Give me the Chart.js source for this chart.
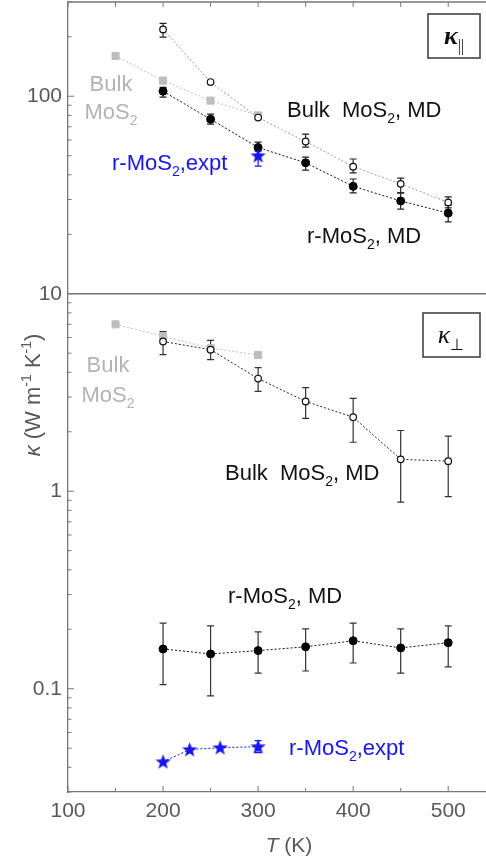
<!DOCTYPE html>
<html>
<head>
<meta charset="utf-8">
<script src="https://cdn.jsdelivr.net/npm/chart.js@4.4.1/dist/chart.umd.min.js"></script>
<style>
  html, body { margin: 0; padding: 0; background: #fff; overflow: hidden; }
  #wrap { width: 520px; height: 861px; }
  canvas { display: block; }
</style>
</head>
<body>
<div id="wrap"><canvas id="kappa" width="520" height="861" style="width:520px;height:861px"></canvas></div>
<script>
// temperatures (K)
const temps = [200, 250, 300, 350, 400, 450, 500];
const bulkT = [150, 200, 250, 300];
const exptT = [200, 228, 260, 300];
const exptParT = [300];

// bulk MoS2 (gray squares)
const bulkPar = [160, 120, 95, 80];
const bulkPerp = [7.0, 6.1, 5.3, 4.9];

// bulk MoS2, MD (open circles)
const bulkMdPar = [218, 118, 78, 59, 44, 36, 29];
const bulkMdParLo = [199, null, null, 55.2, 40.9, 32.4, 27.2];
const bulkMdParHi = [234, null, null, 64.3, 48.1, 38.5, 30.9];
const bulkMdPerp = [5.73, 5.21, 3.72, 2.85, 2.37, 1.45, 1.42];
const bulkMdPerpLo = [4.92, 4.64, 3.2, 2.34, 1.77, 0.88, 0.94];
const bulkMdPerpHi = [6.43, 5.8, 4.23, 3.35, 2.95, 2.03, 1.90];

// r-MoS2, MD (filled circles)
const rMdPar = [106, 76.5, 55, 46, 35, 29.5, 25.6];
const rMdParLo = [98.9, 72.2, 52.7, 42.3, 32.4, 26.8, 23.1];
const rMdParHi = [111, 81.1, 58.6, 49.2, 38.1, 32.4, 28.1];
const rMdPerp = [0.159, 0.150, 0.156, 0.163, 0.175, 0.161, 0.171];
const rMdPerpLo = [0.105, 0.092, 0.12, 0.123, 0.135, 0.12, 0.129];
const rMdPerpHi = [0.215, 0.208, 0.194, 0.201, 0.215, 0.201, 0.208];

// r-MoS2, experiment (blue stars)
const exptPar = [50];
const exptParLo = [44.3];
const exptParHi = [53.4];
const exptPerp = [0.0427, 0.0492, 0.0503, 0.0509];
const exptPerpLo = [null, null, null, 0.0475];
const exptPerpHi = [null, null, null, 0.0546];

const xTicks = [100, 200, 300, 400, 500];
const xMinor = [150, 250, 350, 450];
const yTicks = [0.1, 1, 10, 100];

const SANS = '"Liberation Sans", Arial, sans-serif';
const SERIF = '"Liberation Serif", "Times New Roman", serif';
const BLUE = '#1414ff';

function starImage() {
    const c = document.createElement('canvas');
    c.width = 17; c.height = 17;
    const g = c.getContext('2d');
    g.beginPath();
    for (let i = 0; i < 10; i++) {
        const r = i % 2 ? 3.3 : 8;
        const a = -Math.PI / 2 + i * Math.PI / 5;
        const px = 8.5 + r * Math.cos(a), py = 9 + r * Math.sin(a);
        i ? g.lineTo(px, py) : g.moveTo(px, py);
    }
    g.closePath();
    g.fillStyle = BLUE;
    g.fill();
    return c;
}
const star = starImage();

function series(xs, ys, opts) {
    return Object.assign({
        data: xs.map((x, i) => ({ x, y: ys[i] })),
        showLine: true,
        borderWidth: 1,
        borderDash: [2, 2]
    }, opts);
}

const squareOpts = { borderColor: '#bdbdbd', pointStyle: 'rect', pointRadius: 5, pointBackgroundColor: '#bdbdbd', pointBorderColor: '#bdbdbd', order: 5 };
const openOpts = { pointStyle: 'circle', pointRadius: 3.3, pointBackgroundColor: '#fff', pointBorderColor: '#111', pointBorderWidth: 1.2, order: 3 };
const filledOpts = { borderColor: '#111', pointStyle: 'circle', pointRadius: 4, pointBackgroundColor: '#000', pointBorderColor: '#000', order: 2 };
const starOpts = { borderColor: BLUE, pointStyle: star, order: 1 };

const errorBars = [
    { xs: temps, lo: bulkMdParLo, hi: bulkMdParHi, color: '#222' },
    { xs: temps, lo: bulkMdPerpLo, hi: bulkMdPerpHi, color: '#333' },
    { xs: temps, lo: rMdParLo, hi: rMdParHi, color: '#222' },
    { xs: temps, lo: rMdPerpLo, hi: rMdPerpHi, color: '#333' },
    { xs: exptParT, lo: exptParLo, hi: exptParHi, color: BLUE },
    { xs: exptT, lo: exptPerpLo, hi: exptPerpHi, color: BLUE }
];

function fontFor(p, size) {
    const s = (p.sub || p.sup) ? Math.round(size * 0.62) : size;
    return (p.bold ? 'bold ' : '') + (p.it ? 'italic ' : '') + s + 'px ' + (p.serif ? SERIF : SANS);
}

function drawRich(ctx, parts, x, y, size, color, align) {
    let w = 0;
    parts.forEach(p => { ctx.font = fontFor(p, size); w += ctx.measureText(p.t).width; });
    let cx = align === 'center' ? x - w / 2 : x;
    ctx.fillStyle = color;
    ctx.textAlign = 'left';
    ctx.textBaseline = 'alphabetic';
    parts.forEach(p => {
        ctx.font = fontFor(p, size);
        const dy = p.sub ? size * 0.28 : p.sup ? -size * 0.4 : 0;
        ctx.fillText(p.t, cx, y + dy);
        cx += ctx.measureText(p.t).width;
    });
}

const mos2 = [{ t: 'MoS' }, { t: '2', sub: true }];

const decorations = {
    id: 'decorations',
    beforeDatasetsDraw(chart) {
        const { ctx, scales: { x, y } } = chart;
        ctx.save();
        ctx.lineWidth = 1.2;
        errorBars.forEach(e => {
            ctx.strokeStyle = e.color;
            e.xs.forEach((t, i) => {
                if (e.lo[i] == null) return;
                const px = x.getPixelForValue(t);
                const y1 = y.getPixelForValue(e.lo[i]);
                const y2 = y.getPixelForValue(e.hi[i]);
                ctx.beginPath();
                ctx.moveTo(px, y1); ctx.lineTo(px, y2);
                ctx.moveTo(px - 3.5, y1); ctx.lineTo(px + 3.5, y1);
                ctx.moveTo(px - 3.5, y2); ctx.lineTo(px + 3.5, y2);
                ctx.stroke();
            });
        });
        ctx.restore();
    },
    afterDraw(chart) {
        const { ctx, chartArea: a, scales: { x, y } } = chart;
        ctx.save();
        ctx.strokeStyle = '#777';
        ctx.lineWidth = 1.3;
        // top frame and panel divider at 10
        const yDiv = y.getPixelForValue(10);
        ctx.beginPath();
        ctx.moveTo(a.left, a.top); ctx.lineTo(a.right, a.top);
        ctx.moveTo(a.left, yDiv); ctx.lineTo(a.right, yDiv);
        ctx.stroke();
        // inward ticks on x
        ctx.lineWidth = 1;
        ctx.beginPath();
        xTicks.concat(xMinor).forEach(t => {
            const px = x.getPixelForValue(t);
            const len = xTicks.includes(t) ? 6 : 4;
            ctx.moveTo(px, a.bottom); ctx.lineTo(px, a.bottom - len);
            ctx.moveTo(px, a.top); ctx.lineTo(px, a.top + 5);
        });
        // inward ticks on y
        for (let d = -2; d <= 2; d++) {
            for (let k = 1; k <= 9; k++) {
                const v = k * Math.pow(10, d);
                if (v < 0.03 || v > 300) continue;
                const py = y.getPixelForValue(v);
                ctx.moveTo(a.left, py); ctx.lineTo(a.left + (k === 1 ? 6 : 3.5), py);
            }
        }
        ctx.stroke();

        // axis titles
        drawRich(ctx, [{ t: 'T', it: true }, { t: ' (K)' }], 289, 852, 21, '#595959', 'center');
        ctx.save();
        ctx.translate(40, 395);
        ctx.rotate(-Math.PI / 2);
        drawRich(ctx, [{ t: 'κ', it: true }, { t: ' (W m' }, { t: '-1', sup: true }, { t: ' K' }, { t: '-1', sup: true }, { t: ')' }], 0, 0, 22, '#595959', 'center');
        ctx.restore();

        // panel labels
        ctx.strokeStyle = '#444';
        ctx.lineWidth = 1.6;
        ctx.strokeRect(428, 14, 52, 44);
        ctx.strokeRect(423, 313, 57, 44);
        drawRich(ctx, [{ t: 'κ', it: true, bold: true, serif: true }, { t: '||', sub: true, serif: true }], 454, 44, 26, '#111', 'center');
        drawRich(ctx, [{ t: 'κ', it: true, serif: true }, { t: '⊥', sub: true, serif: true }], 451, 343, 26, '#111', 'center');

        // annotations
        drawRich(ctx, [{ t: 'Bulk' }], 111, 91, 22, '#b3b3b3', 'center');
        drawRich(ctx, mos2, 111, 119, 22, '#b3b3b3', 'center');
        drawRich(ctx, [{ t: 'Bulk' }], 108, 372, 22, '#b3b3b3', 'center');
        drawRich(ctx, mos2, 108, 402, 22, '#b3b3b3', 'center');
        drawRich(ctx, [{ t: 'Bulk  ' }].concat(mos2, [{ t: ', MD' }]), 287, 117, 22, '#111', 'left');
        drawRich(ctx, [{ t: 'Bulk  ' }].concat(mos2, [{ t: ', MD' }]), 225, 480, 22, '#111', 'left');
        drawRich(ctx, [{ t: 'r-' }].concat(mos2, [{ t: ', MD' }]), 307, 243, 22, '#111', 'left');
        drawRich(ctx, [{ t: 'r-' }].concat(mos2, [{ t: ', MD' }]), 228, 603, 22, '#111', 'left');
        drawRich(ctx, [{ t: 'r-' }].concat(mos2, [{ t: ',expt' }]), 112, 170, 22, BLUE, 'left');
        drawRich(ctx, [{ t: 'r-' }].concat(mos2, [{ t: ',expt' }]), 289, 755, 22, BLUE, 'left');
        ctx.restore();
    }
};

new Chart(document.getElementById('kappa'), {
    type: 'scatter',
    data: {
        datasets: [
            series(bulkT, bulkPar, squareOpts),
            series(bulkT, bulkPerp, squareOpts),
            series(temps, bulkMdPar, Object.assign({ borderColor: '#9a9a9a' }, openOpts)),
            series(temps, bulkMdPerp, Object.assign({ borderColor: '#222' }, openOpts)),
            series(temps, rMdPar, filledOpts),
            series(temps, rMdPerp, filledOpts),
            series(exptParT, exptPar, starOpts),
            series(exptT, exptPerp, starOpts)
        ]
    },
    options: {
        responsive: false,
        animation: false,
        devicePixelRatio: 1,
        layout: { autoPadding: false, padding: { top: 2, right: 10, left: 0, bottom: 0 } },
        plugins: { legend: { display: false }, tooltip: { enabled: false } },
        scales: {
            x: {
                type: 'linear',
                min: 100,
                max: 565,
                grid: { display: false, drawTicks: false },
                border: { display: true, color: '#777', width: 1.3 },
                ticks: { color: '#595959', font: { size: 21, family: SANS }, padding: 7, autoSkip: false, maxRotation: 0, callback: v => String(v) },
                afterBuildTicks: s => { s.ticks = xTicks.map(v => ({ value: v })); },
                afterFit: s => { s.height = 69; s.paddingLeft = 0; s.paddingRight = 0; }
            },
            y: {
                type: 'logarithmic',
                min: 0.03,
                max: 300,
                grid: { display: false, drawTicks: false },
                border: { display: true, color: '#777', width: 1.3 },
                ticks: { color: '#595959', font: { size: 21, family: SANS }, padding: 6, autoSkip: false, callback: v => String(v) },
                afterBuildTicks: s => { s.ticks = yTicks.map(v => ({ value: v })); },
                afterFit: s => { s.width = 68; s.paddingTop = 0; s.paddingBottom = 0; }
            }
        }
    },
    plugins: [decorations]
});
</script>
</body>
</html>
